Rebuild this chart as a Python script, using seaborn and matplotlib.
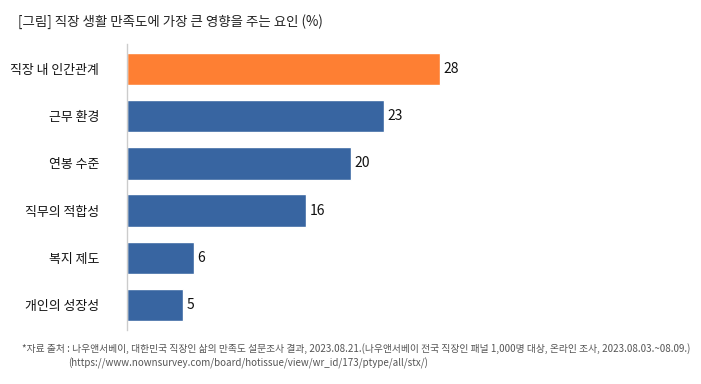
import matplotlib
matplotlib.use("Agg")
import matplotlib.pyplot as plt
import pandas as pd
import seaborn as sns

# 데이터
categories = ["직장 내 인간관계", "근무 환경", "연봉 수준", "직무의 적합성", "복지 제도", "개인의 성장성"]
values = [28, 23, 20, 16, 6, 5]
colors = ["#FE7F33", "#3865A1", "#3865A1", "#3865A1", "#3865A1", "#3865A1"]

title = "[그림] 직장 생활 만족도에 가장 큰 영향을 주는 요인 (%)"
source1 = "*자료 출처 : 나우앤서베이, 대한민국 직장인 삶의 만족도 설문조사 결과, 2023.08.21.(나우앤서베이 전국 직장인 패널 1,000명 대상, 온라인 조사, 2023.08.03.~08.09.)"
source2 = "(https://www.nownsurvey.com/board/hotissue/view/wr_id/173/ptype/all/stx/)"

sns.set_style("white")
plt.rcParams["font.family"] = ["Noto Sans CJK KR", "DejaVu Sans"]

df = pd.DataFrame({"요인": categories, "값": values})

fig = plt.figure(figsize=(7.01, 3.84), dpi=100)
ax = fig.add_axes([0.181, 0.1406, 0.479, 0.7448])

sns.barplot(data=df, x="값", y="요인", hue="요인", palette=colors, legend=False,
            saturation=1, width=0.69, ax=ax, orient="h")

for p, v in zip(ax.patches, values):
    ax.text(p.get_width() + 0.3, p.get_y() + p.get_height() / 2, str(v),
            va="center", ha="left", fontsize=10, color="#111111", fontweight="medium")

ax.set_xlim(0, 30)
ax.set_ylim(5.53, -0.53)
ax.set_xlabel("")
ax.set_ylabel("")
ax.set_xticks([])
ax.tick_params(axis="y", length=0, pad=20, labelsize=9.3, labelcolor="#111111")
for lbl in ax.get_yticklabels():
    lbl.set_fontweight("medium")
for s in ["top", "right", "bottom"]:
    ax.spines[s].set_visible(False)
ax.spines["left"].set_color("#cccccc")
ax.spines["left"].set_linewidth(1)

fig.text(0.026, 0.945, title, fontsize=9.7, color="#222222", va="center", ha="left")
fig.text(0.031, 0.092, source1, fontsize=7.05, color="#555555", va="center", ha="left")
fig.text(0.097, 0.053, source2, fontsize=7.05, color="#555555", va="center", ha="left")

fig.savefig("out.png", dpi=100)
